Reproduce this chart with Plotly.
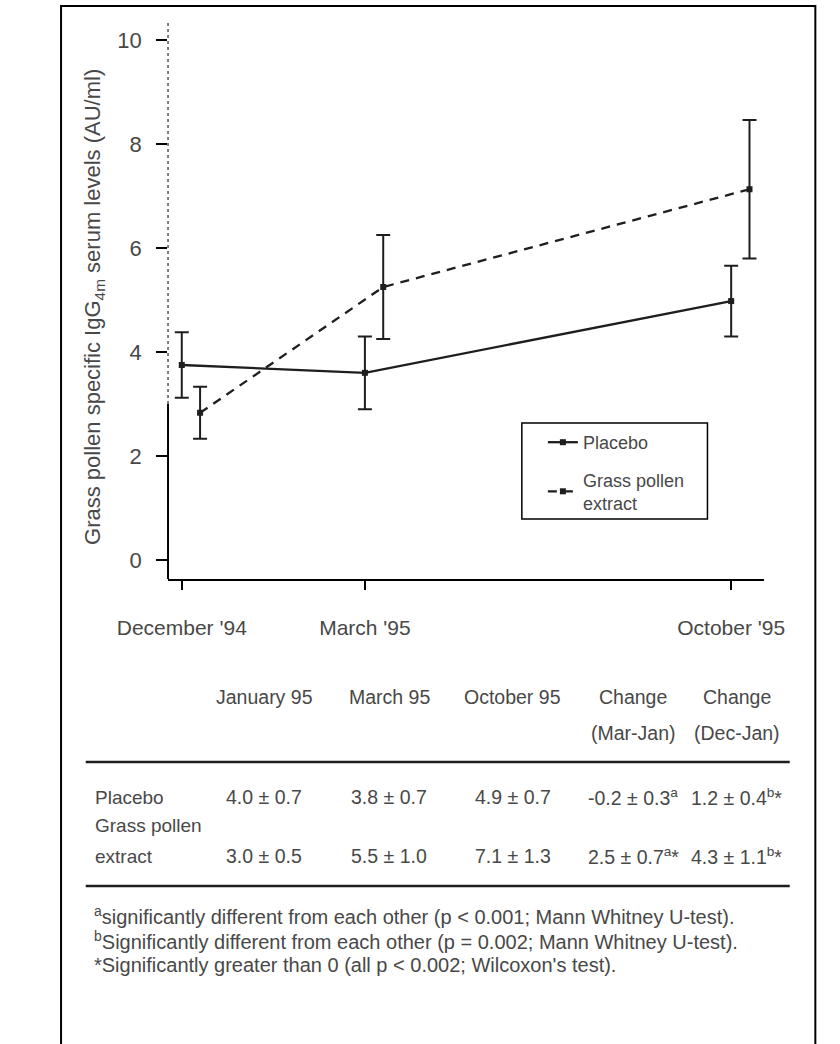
import plotly.graph_objects as go

# ---------------- data ----------------
timepoints = ["December '94", "March '95", "October '95"]
time_pos = [0, 1, 3]

placebo_mean = [3.75, 3.60, 4.98]
placebo_err = [0.63, 0.70, 0.68]

grass_mean = [2.83, 5.25, 7.13]
grass_err = [0.50, 1.00, 1.33]

y_ticks = [0, 2, 4, 6, 8, 10]

table_head_1 = ["January 95", "March 95", "October 95", "Change", "Change"]
table_head_2 = ["", "", "", "(Mar-Jan)", "(Dec-Jan)"]
table_placebo = ["4.0 ± 0.7", "3.8 ± 0.7", "4.9 ± 0.7",
                 "-0.2 ± 0.3<sup>a</sup>", "1.2 ± 0.4<sup>b</sup>*"]
table_grass = ["3.0 ± 0.5", "5.5 ± 1.0", "7.1 ± 1.3",
               "2.5 ± 0.7<sup>a</sup>*", "4.3 ± 1.1<sup>b</sup>*"]
row_labels = ["Placebo", "Grass pollen", "extract"]

footnotes = [
    "<sup>a</sup>significantly different from each other (p &lt; 0.001; Mann Whitney U-test).",
    "<sup>b</sup>Significantly different from each other (p = 0.002; Mann Whitney U-test).",
    "*Significantly greater than 0 (all p &lt; 0.002; Wilcoxon's test).",
]

# ---------------- layout helpers ----------------
W, H = 840, 1044
FONT = "Liberation Sans, Arial, sans-serif"
TXT = "#484848"
INK = "#1e1e1e"


def px(x):
    return x / W


def py(y):
    return 1 - y / H


dodge = 0.1
grass_pos = [t + dodge for t in time_pos]

fig = go.Figure()
fig.add_trace(go.Scatter(
    x=time_pos, y=placebo_mean, name="Placebo",
    mode="lines+markers",
    line=dict(color=INK, width=2.3),
    marker=dict(symbol="square", size=6, color=INK),
    error_y=dict(type="data", array=placebo_err, color=INK, thickness=2, width=7),
    legendgroup="p",
))
fig.add_trace(go.Scatter(
    x=grass_pos, y=grass_mean, name="Grass pollen<br>extract",
    mode="lines+markers",
    line=dict(color=INK, width=2.3, dash="9px,7px"),
    marker=dict(symbol="square", size=6, color=INK),
    error_y=dict(type="data", array=grass_err, color=INK, thickness=2, width=7),
    legendgroup="g",
))

y_lo, y_hi = -0.365, 10.385

shapes = [
    # outer frame
    dict(type="rect", xref="paper", yref="paper", x0=px(11), x1=px(836),
         y0=py(1060), y1=py(6), line=dict(color="black", width=2)),
    # y axis line: solid lower part, dotted upper part (as in the scan)
    dict(type="line", xref="x domain", yref="y", x0=0, x1=0, y0=y_lo, y1=3.0,
         line=dict(color="black", width=2)),
    dict(type="line", xref="x domain", yref="y", x0=0, x1=0, y0=3.0, y1=y_hi,
         line=dict(color="#555555", width=1.5, dash="dot")),
    # legend box
    dict(type="rect", xref="paper", yref="paper", x0=px(515), x1=px(718),
         y0=py(519), y1=py(423), line=dict(color="black", width=1.5)),
    # table rules
    dict(type="line", xref="paper", yref="paper", x0=px(38), x1=px(808),
         y0=py(762), y1=py(762), line=dict(color=INK, width=2.5)),
    dict(type="line", xref="paper", yref="paper", x0=px(38), x1=px(808),
         y0=py(886), y1=py(886), line=dict(color=INK, width=2.5)),
]

annotations = []
# y-axis title
annotations.append(dict(
    xref="paper", yref="paper", x=px(47), y=py(307), textangle=-90,
    text="Grass pollen specific IgG<sub>4m</sub> serum levels (AU/ml)",
    showarrow=False, font=dict(family=FONT, size=22, color=TXT),
    xanchor="center", yanchor="middle",
))

col_x = [233, 370, 505, 637, 750]
for cx, h1, h2, v1, v2 in zip(col_x, table_head_1, table_head_2, table_placebo, table_grass):
    for txt, yy in ((h1, 697), (h2, 733), (v1, 797), (v2, 856)):
        if txt:
            annotations.append(dict(
                xref="paper", yref="paper", x=px(cx), y=py(yy), text=txt,
                showarrow=False, xanchor="center", yanchor="middle",
                font=dict(family=FONT, size=19.5, color=TXT),
            ))
for lab, yy in zip(row_labels, [797, 825, 856]):
    annotations.append(dict(
        xref="paper", yref="paper", x=px(46), y=py(yy), text=lab,
        showarrow=False, xanchor="left", yanchor="middle",
        font=dict(family=FONT, size=19, color=TXT),
    ))
for fn, yy in zip(footnotes, [915, 940, 965]):
    annotations.append(dict(
        xref="paper", yref="paper", x=px(45), y=py(yy), text=fn,
        showarrow=False, xanchor="left", yanchor="middle",
        font=dict(family=FONT, size=20, color=TXT),
    ))

fig.update_layout(
    width=W, height=H, autosize=False,
    margin=dict(l=0, r=0, t=0, b=0, pad=0),
    paper_bgcolor="white", plot_bgcolor="white",
    font=dict(family=FONT, color=TXT),
    xaxis=dict(
        domain=[px(128), px(780)], range=[-0.075, 3.18],
        showgrid=False, zeroline=False,
        showline=True, linecolor="black", linewidth=2,
        ticks="outside", ticklen=9, tickwidth=2, tickcolor="black",
        tickvals=time_pos, ticktext=timepoints,
        tickfont=dict(family=FONT, size=21, color=TXT),
        ticklabelstandoff=20,
    ),
    yaxis=dict(
        domain=[py(579), py(20)], range=[y_lo, y_hi],
        showgrid=False, zeroline=False, showline=False,
        ticks="outside", ticklen=11, tickwidth=2, tickcolor="black",
        tickvals=y_ticks,
        tickfont=dict(family=FONT, size=22, color=TXT),
        ticklabelstandoff=10,
    ),
    showlegend=True,
    legend=dict(
        x=px(538), y=py(424), xanchor="left", yanchor="top",
        bgcolor="rgba(0,0,0,0)", borderwidth=0,
        font=dict(family=FONT, size=18, color=TXT),
        traceorder="grouped", tracegroupgap=11,
    ),
    shapes=shapes,
    annotations=annotations,
)

fig.write_html("out.html")
